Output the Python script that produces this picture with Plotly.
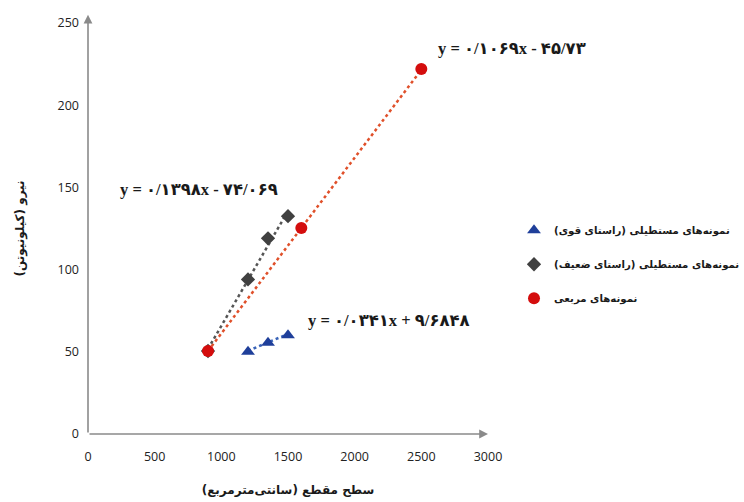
import plotly.graph_objects as go

# Square specimens
square_area = [900, 1600, 2500]
square_force = [50.5, 125.3, 222]

# Rectangular specimens, weak direction
weak_area = [900, 1200, 1350, 1500]
weak_force = [50.5, 94, 119, 132.5]

# Rectangular specimens, strong direction
strong_area = [1200, 1350, 1500]
strong_force = [50, 55.5, 60]

# Linear trendline coefficients (slope, intercept)
square_fit = (0.1069, -45.73)
weak_fit = (0.1398, -74.069)
strong_fit = (0.0341, 9.6848)

x_ticks = [0, 500, 1000, 1500, 2000, 2500, 3000]
y_ticks = [0, 50, 100, 150, 200, 250]

eq_square = "y = ۰/۱۰۶۹x - ۴۵/۷۳"
eq_weak = "y = ۰/۱۳۹۸x - ۷۴/۰۶۹"
eq_strong = "y = ۰/۰۳۴۱x + ۹/۶۸۴۸"

name_strong = "نمونه\u200cهای مستطیلی (راستای قوی)"
name_weak = "نمونه\u200cهای مستطیلی (راستای ضعیف)"
name_square = "نمونه\u200cهای مربعی"

x_title = "سطح مقطع (سانتی\u200cمترمربع)"
y_title = "نیرو (کیلونیوتن)"

RLE, PDF = "\u202b", "\u202c"


def rtl(s):
    return RLE + s + PDF


def trend(xs, fit):
    lo, hi = min(xs), max(xs)
    return [lo, hi], [fit[0] * lo + fit[1], fit[0] * hi + fit[1]]


fig = go.Figure()

# dotted linear trendlines
for xs, fit, col in [(square_area, square_fit, "#e0502a"),
                     (weak_area, weak_fit, "#555555"),
                     (strong_area, strong_fit, "#3a64b8")]:
    tx, ty = trend(xs, fit)
    fig.add_trace(go.Scatter(x=tx, y=ty, mode="lines", showlegend=False,
                             hoverinfo="skip", cliponaxis=False,
                             line=dict(color=col, width=2.5, dash="dot")))

fig.add_trace(go.Scatter(
    x=weak_area, y=weak_force, mode="markers", name=rtl(name_weak),
    legendgroup="weak", legendrank=2,
    marker=dict(symbol="diamond", size=11, color="#404040"),
    cliponaxis=False,
))
fig.add_trace(go.Scatter(
    x=strong_area, y=strong_force, mode="markers", name=rtl(name_strong),
    legendgroup="strong", legendrank=1,
    marker=dict(symbol="triangle-up", size=12, color="#1f3f9a"),
    cliponaxis=False,
))
fig.add_trace(go.Scatter(
    x=square_area, y=square_force, mode="markers", name=rtl(name_square),
    legendgroup="square", legendrank=3,
    marker=dict(symbol="circle", size=12, color="#d40d0d"),
    cliponaxis=False,
))

annotations = []

# axis lines with arrowheads
axis_col = "#8a8a8a"
annotations.append(dict(x=3000, y=0, ax=0, ay=0, xref="x", yref="y",
                        axref="x", ayref="y", showarrow=True, arrowhead=2,
                        arrowsize=1.1, arrowwidth=1.6, arrowcolor=axis_col,
                        text=""))
annotations.append(dict(x=0, y=255, ax=0, ay=0, xref="x", yref="y",
                        axref="x", ayref="y", showarrow=True, arrowhead=2,
                        arrowsize=1.1, arrowwidth=1.6, arrowcolor=axis_col,
                        text=""))

eq_font = dict(family="Liberation Serif, DejaVu Sans", size=16.5,
               color="#1a1a1a", weight="bold")
for txt, px, py in [(eq_square, 1.06, 0.939),
                    (eq_weak, 0.2775, 0.594),
                    (eq_strong, 0.7525, 0.275)]:
    annotations.append(dict(x=px, y=py, xref="paper", yref="paper",
                            text=txt, showarrow=False, font=eq_font,
                            xanchor="center", yanchor="middle"))

fig.update_layout(
    width=744, height=502,
    margin=dict(l=88, r=256, t=23, b=68, autoexpand=False),
    paper_bgcolor="white", plot_bgcolor="white",
    showlegend=True,
    legend=dict(x=1.065, xanchor="left", y=0.531, yanchor="top",
                tracegroupgap=15, bgcolor="rgba(0,0,0,0)",
                font=dict(family="DejaVu Sans", size=10.2, color="#1a1a1a",
                          weight="bold")),
    annotations=annotations,
    xaxis=dict(
        range=[0, 3000], tickvals=x_ticks, ticktext=[str(v) for v in x_ticks],
        showgrid=False, zeroline=False, showline=False, ticks="",
        ticklabelstandoff=13, automargin=False,
        tickfont=dict(family="Open Sans", size=12.5, color="#222222"),
        title=dict(text=rtl(x_title), standoff=22,
                   font=dict(family="DejaVu Sans", size=12, color="#1a1a1a",
                             weight="bold")),
    ),
    yaxis=dict(
        range=[0, 250], tickvals=y_ticks, ticktext=[str(v) for v in y_ticks],
        showgrid=False, zeroline=False, showline=False, ticks="",
        ticklabelstandoff=8, automargin=False,
        tickfont=dict(family="Open Sans", size=12.5, color="#222222"),
        title=dict(text=rtl(y_title), standoff=30,
                   font=dict(family="DejaVu Sans", size=12, color="#1a1a1a",
                             weight="bold")),
    ),
)

fig.write_html("out.html")
